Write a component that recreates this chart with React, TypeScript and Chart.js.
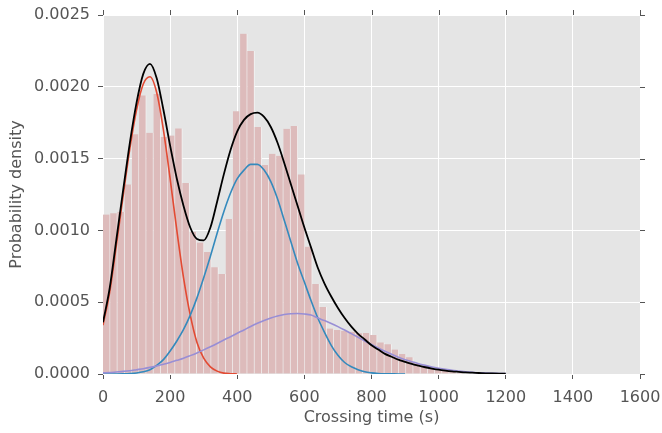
import React, { useEffect, useRef } from 'react';
import { Chart, registerables } from 'chart.js';

Chart.register(...registerables);

// Histogram: bins start at 0 s, constant width (s)
const BIN_START = 0;
const BIN_WIDTH = 21.5;
const binDensity = [
  0.00111, 0.00112, 0.00113, 0.00132, 0.00167, 0.00194, 0.00168, 0.00195, 0.00165, 0.00166,
  0.00171, 0.00133, 0.00099, 0.000915, 0.00085, 0.000743, 0.000696, 0.00108, 0.00183, 0.00237,
  0.00225, 0.00172, 0.001455, 0.001534, 0.00152, 0.001708, 0.001727, 0.00139, 0.000887, 0.000627,
  0.000467, 0.000316, 0.000306, 0.000302, 0.000295, 0.000283, 0.000285, 0.000272, 0.00022, 0.000207,
  0.00017, 0.000139, 0.000117, 0.000074, 0.000055, 0.000042, 0.00003, 0.000022, 0.000016, 0.00001,
];

// Times (s) at which the fitted curves were read
const curveTimes = [
  0, 20, 40, 60, 80, 100, 120, 140, 160, 180,
  200, 220, 240, 260, 280, 300, 320, 340, 360, 380,
  400, 420, 440, 460, 480, 500, 520, 540, 560, 580,
  600, 620, 640, 660, 680, 700, 720, 740, 760, 780,
  800, 820, 840, 860, 880, 900, 920, 940, 960, 980,
  1000, 1020, 1040, 1060, 1080, 1100, 1120, 1140, 1160, 1180, 1200,
];

const totalFit = [
  0.00036, 0.0006, 0.00094, 0.00128, 0.00161, 0.00189, 0.00209, 0.00216, 0.00206, 0.00184,
  0.00159, 0.00136, 0.00117, 0.00102, 0.00094, 0.00093, 0.00102, 0.0012, 0.00139, 0.00156,
  0.00169, 0.00177, 0.00181, 0.00182, 0.00179, 0.00172, 0.00161, 0.00147, 0.00132, 0.00117,
  0.00102, 0.00088, 0.00074, 0.00063, 0.00054, 0.00046, 0.00039, 0.00033, 0.00028, 0.00024,
  0.0002, 0.00017, 0.00014, 0.00012, 0.0001, 0.000085, 0.00007, 0.000058, 0.000047, 0.000038,
  0.00003, 0.000024, 0.000019, 0.000015, 0.000011, 0.000009, 0.000007, 0.000005, 0.000004, 0.000003, 0.000002,
];

const fastFit = [
  0.00034, 0.00057, 0.0009, 0.00124, 0.00157, 0.00184, 0.00202, 0.00207, 0.00196, 0.0017,
  0.00136, 0.001, 0.00067, 0.00041, 0.00022, 0.00011, 0.00005, 0.00002, 0.000006, 0.000002,
  0,
];

const middleFit = [
  0, 0, 0, 0.000001, 0.000003, 0.000007, 0.000015, 0.00003, 0.00006, 0.0001,
  0.00016, 0.00023, 0.00031, 0.00041, 0.00053, 0.00067, 0.00082, 0.00098, 0.00113, 0.00126,
  0.00136, 0.00142, 0.00146, 0.00146, 0.00142, 0.00134, 0.00122, 0.00107, 0.00092, 0.00077,
  0.00064, 0.00051, 0.00039, 0.00029, 0.0002, 0.00013, 0.00008, 0.00005, 0.00003, 0.000015,
  0.000008, 0.000004, 0.000002, 0.000001, 0, 0,
];

const slowFit = [
  0.000008, 0.00001, 0.000014, 0.000018, 0.000023, 0.00003, 0.000037, 0.000046, 0.000056, 0.000068,
  0.00008, 0.000095, 0.00011, 0.000128, 0.000147, 0.000168, 0.00019, 0.000213, 0.000237, 0.00026,
  0.000284, 0.000307, 0.000331, 0.000353, 0.000373, 0.00039, 0.000404, 0.000414, 0.00042, 0.000421,
  0.000418, 0.000411, 0.00039, 0.000372, 0.000352, 0.00033, 0.000306, 0.000281, 0.000256, 0.00023,
  0.000205, 0.000181, 0.000158, 0.000137, 0.000117, 0.0001, 0.000086, 0.000072, 0.00006, 0.000049,
  0.00004, 0.000032, 0.000025, 0.00002, 0.000015, 0.000012, 0.000009, 0.000007, 0.000005, 0.000004, 0.000003,
];

const xTickStep = 200;
const yTickStep = 0.0005;
const X_MAX = 1600;
const Y_MAX = 0.0025;

const FONT = 'DejaVu Sans';
const TEXT = '#555555';
const FONT_SIZE = 16;
const TICK_LEN = 5;

const toPoints = (vals: number[]) => vals.map((v, i) => ({ x: curveTimes[i], y: v }));

const bgPlugin = {
  id: 'plotBg',
  beforeDraw(chart: any) {
    const { ctx, chartArea: a } = chart;
    ctx.save();
    ctx.fillStyle = '#E5E5E5';
    ctx.fillRect(a.left, a.top, a.right - a.left, a.bottom - a.top);
    ctx.restore();
  },
};

// Mirror the tick marks on the top and right edges (outward), like the reference
const mirrorTicksPlugin = {
  id: 'mirrorTicks',
  afterDraw(chart: any) {
    const { ctx, chartArea: a, scales } = chart;
    ctx.save();
    ctx.strokeStyle = TEXT;
    ctx.lineWidth = 1;
    ctx.beginPath();
    scales.x.ticks.forEach((t: any) => {
      const px = Math.round(scales.x.getPixelForValue(t.value)) + 0.5;
      ctx.moveTo(px, a.top - TICK_LEN);
      ctx.lineTo(px, a.top);
    });
    scales.y.ticks.forEach((t: any) => {
      const py = Math.round(scales.y.getPixelForValue(t.value)) + 0.5;
      ctx.moveTo(a.right, py);
      ctx.lineTo(a.right + TICK_LEN, py);
    });
    ctx.stroke();
    ctx.restore();
  },
};

const zeroPadding = (s: any) => {
  s.paddingLeft = 0;
  s.paddingRight = 0;
  s.paddingTop = 0;
  s.paddingBottom = 0;
};

export default function App() {
  const ref = useRef<HTMLCanvasElement | null>(null);
  useEffect(() => {
    if (!ref.current) return;
    const bars = binDensity.map((v, i) => ({ x: BIN_START + (i + 0.5) * BIN_WIDTH, y: v }));
    const line = (label: string, vals: number[], color: string, width: number, order: number) => ({
      type: 'line' as const,
      label,
      data: toPoints(vals),
      borderColor: color,
      backgroundColor: color,
      borderWidth: width,
      pointRadius: 0,
      fill: false,
      cubicInterpolationMode: 'monotone' as const,
      order,
    });
    const chart = new Chart(ref.current, {
      type: 'bar',
      data: {
        datasets: [
          line('Total', totalFit, '#000000', 1.8, 0),
          line('Slow', slowFit, '#988ED5', 1.6, 1),
          line('Middle', middleFit, '#348ABD', 1.6, 2),
          line('Fast', fastFit, '#E24A33', 1.6, 3),
          {
            type: 'bar' as const,
            label: 'Histogram',
            data: bars,
            backgroundColor: '#DDBBBB',
            borderColor: '#F2F2F2',
            borderWidth: { top: 0, right: 1, bottom: 0, left: 0 },
            borderSkipped: false,
            categoryPercentage: 1,
            barPercentage: 1,
            order: 10,
          } as any,
        ],
      },
      options: {
        responsive: false,
        animation: false,
        devicePixelRatio: 1,
        layout: { padding: { top: 15, right: 22, left: 0, bottom: 0 } },
        plugins: { legend: { display: false }, tooltip: { enabled: false } },
        scales: {
          x: {
            type: 'linear',
            min: 0,
            max: X_MAX,
            offset: false,
            ticks: {
              stepSize: xTickStep,
              color: TEXT,
              font: { family: FONT, size: FONT_SIZE },
              padding: 9,
              maxRotation: 0,
              autoSkip: false,
              callback: (v: any) => String(v),
            },
            grid: {
              offset: false,
              color: '#FFFFFF',
              lineWidth: 1,
              tickColor: TEXT,
              tickLength: TICK_LEN,
              drawTicks: true,
            },
            border: { display: false },
            title: {
              display: true,
              text: 'Crossing time (s)',
              color: TEXT,
              font: { family: FONT, size: FONT_SIZE },
              padding: { top: 0, bottom: 6 },
            },
            afterFit: (s: any) => { s.height = 59; zeroPadding(s); },
          },
          y: {
            min: 0,
            max: Y_MAX,
            ticks: {
              stepSize: yTickStep,
              color: TEXT,
              font: { family: FONT, size: FONT_SIZE },
              padding: 8,
              callback: (v: any) => Number(v).toFixed(4),
            },
            grid: {
              offset: false,
              color: '#FFFFFF',
              lineWidth: 1,
              tickColor: TEXT,
              tickLength: TICK_LEN,
              drawTicks: true,
            },
            border: { display: false },
            title: {
              display: true,
              text: 'Probability density',
              color: TEXT,
              font: { family: FONT, size: FONT_SIZE },
              padding: { top: 7, bottom: 0 },
            },
            afterFit: (s: any) => { s.width = 103; zeroPadding(s); },
          },
        },
      } as any,
      plugins: [bgPlugin, mirrorTicksPlugin],
    });
    return () => chart.destroy();
  }, []);
  return (
    <div style={{ position: 'fixed', left: 0, top: 0, width: 662, height: 433, background: '#FFFFFF' }}>
      <canvas ref={ref} width={662} height={433} style={{ display: 'block' }} />
    </div>
  );
}
